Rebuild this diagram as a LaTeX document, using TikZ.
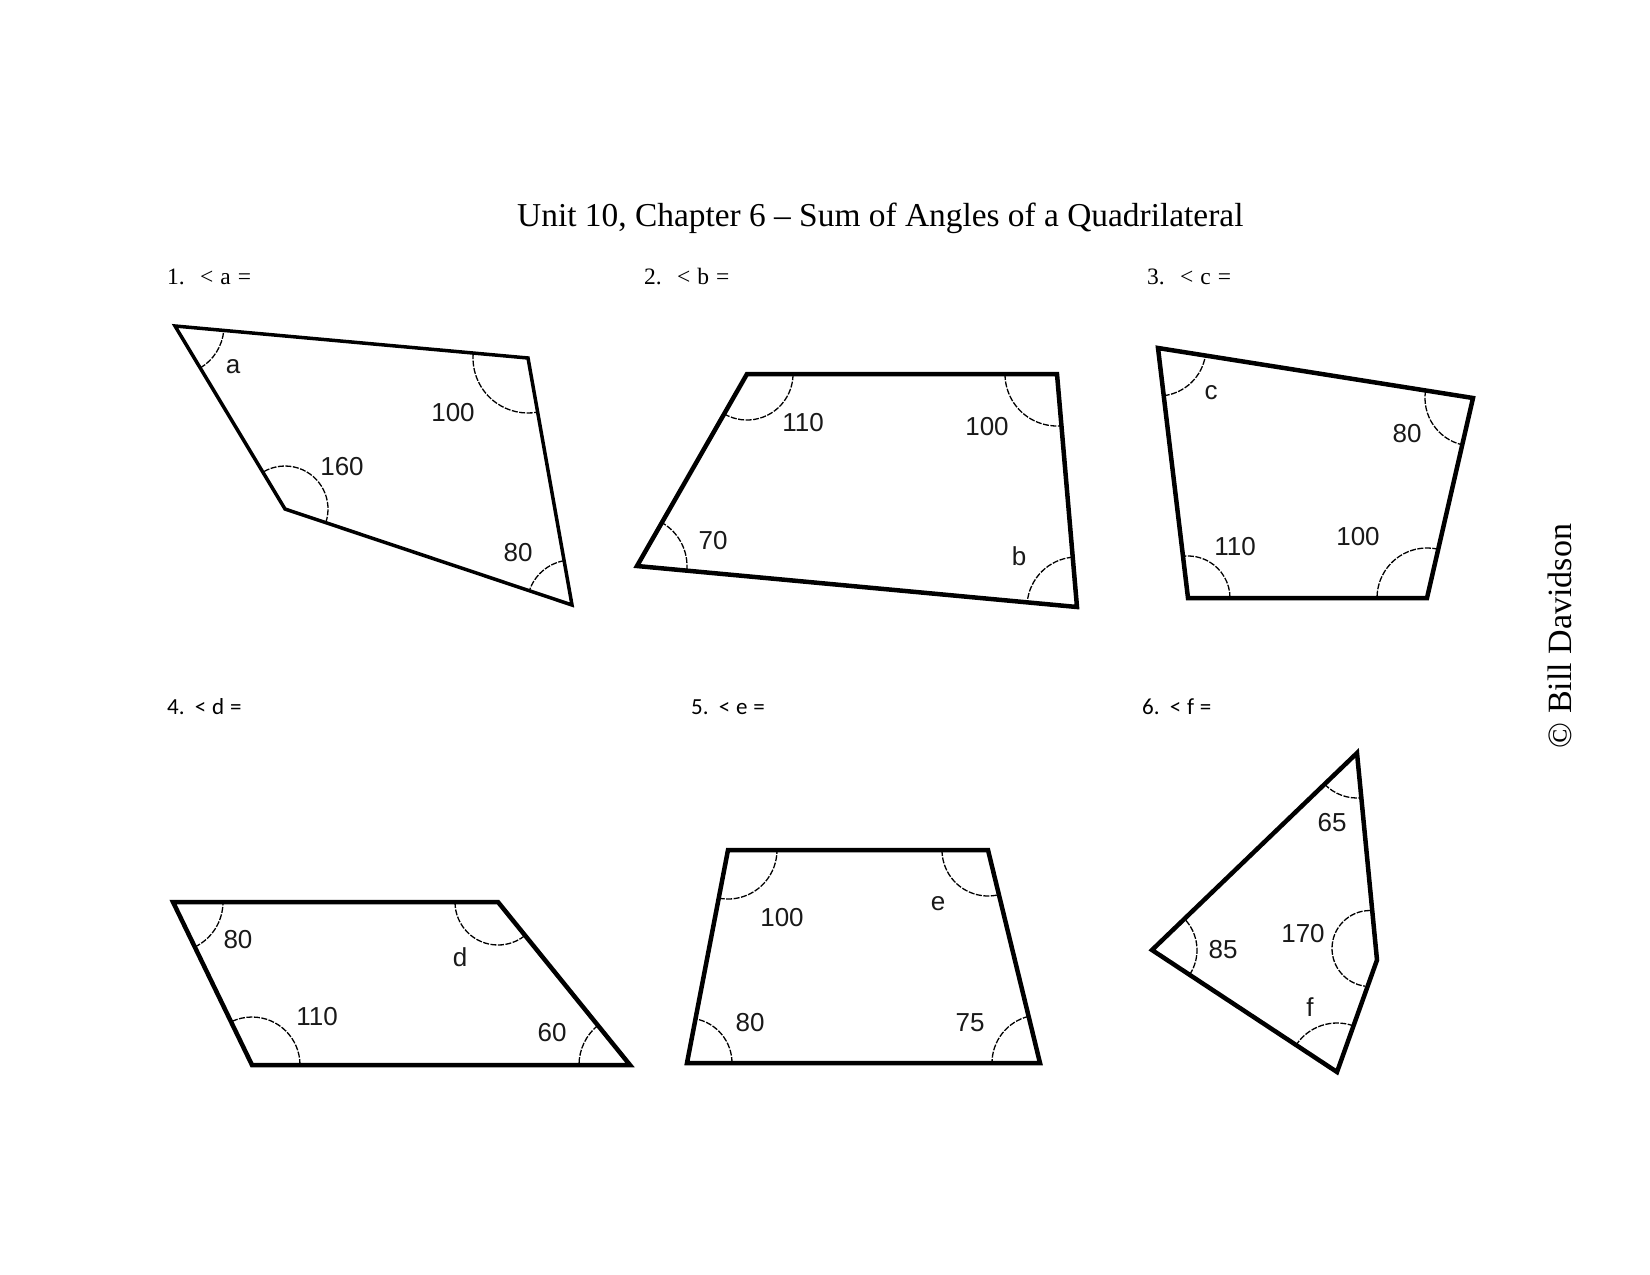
\documentclass[tikz,border=0pt]{standalone}
\usepackage{fontspec}
\setmainfont{Liberation Serif}
\newfontfamily\labelfont{Liberation Sans}
\newfontfamily\calfont{Carlito}
\usetikzlibrary{angles}
\tikzset{
  quad/.style={line width=4.5pt, line join=miter},
  thinquad/.style={line width=3.5pt, line join=miter},
  arcmark/.style={draw, line width=1.3pt, dash pattern=on 6pt off 1.5pt},
  lbl/.style={font=\labelfont\fontsize{26}{30}\selectfont, inner sep=0pt, text=black!90},
  probA/.style={font=\fontsize{23.5}{27}\selectfont, inner sep=0pt, anchor=base west},
  probB/.style={font=\calfont\fontsize{23}{27}\selectfont, inner sep=0pt, anchor=base west},
}
\begin{document}
\begin{tikzpicture}[x=1pt,y=-1pt]
\useasboundingbox (0,0) rectangle (1650,1275);

% title
\node[font=\fontsize{33.4}{40}\selectfont, inner sep=0pt, anchor=base west] (title) at (517,226) {Unit 10, Chapter 6 – Sum of Angles of a Quadrilateral};

% problem labels
\node[probA] (p1) at (167,284) {1.\hspace{0.65em}<\hspace{0.3em}a\hspace{0.3em}=};
\node[probA] (p2) at (644,284) {2.\hspace{0.65em}<\hspace{0.3em}b\hspace{0.3em}=};
\node[probA] (p3) at (1147,284) {3.\hspace{0.65em}<\hspace{0.3em}c\hspace{0.3em}=};
\node[probB] (p4) at (167,714) {4.\hspace{0.45em}<\hspace{0.25em}d\hspace{0.25em}=};
\node[probB] (p5) at (691,714) {5.\hspace{0.45em}<\hspace{0.25em}e\hspace{0.25em}=};
\node[probB] (p6) at (1142,714) {6.\hspace{0.45em}<\hspace{0.25em}f\hspace{0.25em}=};

% copyright
\node[rotate=90, font=\fontsize{34}{40}\selectfont, inner sep=0pt] (copy) at (1560,636) {© Bill Davidson};

% ---- 1
\coordinate (A1) at (175,326);
\coordinate (B1) at (528,358);
\coordinate (C1) at (572,605);
\coordinate (D1) at (285,509);
\draw[thinquad] (A1) -- (B1) -- (C1) -- (D1) -- cycle;
\pic[arcmark, angle radius=49pt] {angle=D1--A1--B1};
\pic[arcmark, angle radius=55pt] {angle=A1--B1--C1};
\pic[arcmark, angle radius=45pt] {angle=B1--C1--D1};
\pic[arcmark, angle radius=43pt] {angle=C1--D1--A1};
\node[lbl] (l1a) at (233,367) {a};
\node[lbl] (l1b) at (453,413) {100};
\node[lbl] (l1c) at (342,467) {160};
\node[lbl] (l1d) at (518,553) {80};

% ---- 2
\coordinate (A2) at (747,374);
\coordinate (B2) at (1057,374);
\coordinate (C2) at (1077,607);
\coordinate (D2) at (637,566);
\draw[quad] (A2) -- (B2) -- (C2) -- (D2) -- cycle;
\pic[arcmark, angle radius=46pt] {angle=D2--A2--B2};
\pic[arcmark, angle radius=52pt] {angle=A2--B2--C2};
\pic[arcmark, angle radius=50pt] {angle=B2--C2--D2};
\pic[arcmark, angle radius=50pt] {angle=C2--D2--A2};
\node[lbl] (l2a) at (803,423) {110};
\node[lbl] (l2b) at (987,427) {100};
\node[lbl] (l2c) at (713,541) {70};
\node[lbl] (l2d) at (1019,556) {b};

% ---- 3
\coordinate (A3) at (1158,348);
\coordinate (B3) at (1473,398);
\coordinate (C3) at (1427,598);
\coordinate (D3) at (1188,598);
\draw[quad] (A3) -- (B3) -- (C3) -- (D3) -- cycle;
\pic[arcmark, angle radius=48pt] {angle=D3--A3--B3};
\pic[arcmark, angle radius=48pt] {angle=A3--B3--C3};
\pic[arcmark, angle radius=50pt] {angle=B3--C3--D3};
\pic[arcmark, angle radius=42pt] {angle=C3--D3--A3};
\node[lbl] (l3a) at (1211,393) {c};
\node[lbl] (l3b) at (1407,434) {80};
\node[lbl] (l3c) at (1235,547) {110};
\node[lbl] (l3d) at (1358,537) {100};

% ---- 4
\coordinate (A4) at (173,902);
\coordinate (B4) at (498,902);
\coordinate (C4) at (630,1065);
\coordinate (D4) at (252,1065);
\draw[quad] (A4) -- (B4) -- (C4) -- (D4) -- cycle;
\pic[arcmark, angle radius=50pt] {angle=D4--A4--B4};
\pic[arcmark, angle radius=43pt] {angle=A4--B4--C4};
\pic[arcmark, angle radius=51pt] {angle=B4--C4--D4};
\pic[arcmark, angle radius=48pt] {angle=C4--D4--A4};
\node[lbl] (l4a) at (238,940) {80};
\node[lbl] (l4b) at (460,957) {d};
\node[lbl] (l4c) at (317,1017) {110};
\node[lbl] (l4d) at (552,1033) {60};

% ---- 5
\coordinate (A5) at (728,850);
\coordinate (B5) at (988,850);
\coordinate (C5) at (1040,1063);
\coordinate (D5) at (687,1063);
\draw[quad] (A5) -- (B5) -- (C5) -- (D5) -- cycle;
\pic[arcmark, angle radius=49pt] {angle=D5--A5--B5};
\pic[arcmark, angle radius=46pt] {angle=A5--B5--C5};
\pic[arcmark, angle radius=48pt] {angle=B5--C5--D5};
\pic[arcmark, angle radius=45pt] {angle=C5--D5--A5};
\node[lbl] (l5a) at (782,918) {100};
\node[lbl] (l5b) at (938,904) {e};
\node[lbl] (l5c) at (750,1023) {80};
\node[lbl] (l5d) at (970,1023) {75};

% ---- 6
\coordinate (A6) at (1357,753);
\coordinate (B6) at (1377,960);
\coordinate (C6) at (1337,1072);
\coordinate (D6) at (1152,950);
\coordinate (O6) at (1370,948.5);
\draw[quad] (A6) -- (B6) -- (C6) -- (D6) -- cycle;
\pic[arcmark, angle radius=45pt] {angle=D6--A6--B6};
\draw[line width=1.3pt, dash pattern=on 6pt off 1.5pt] (O6) ++(270:38) arc[start angle=270, end angle=97.5, radius=38];
\pic[arcmark, angle radius=49pt] {angle=B6--C6--D6};
\pic[arcmark, angle radius=45pt] {angle=C6--D6--A6};
\node[lbl] (l6a) at (1332,823) {65};
\node[lbl] (l6b) at (1303,934) {170};
\node[lbl] (l6c) at (1223,950) {85};
\node[lbl] (l6d) at (1310,1007) {f};
\end{tikzpicture}
\end{document}
